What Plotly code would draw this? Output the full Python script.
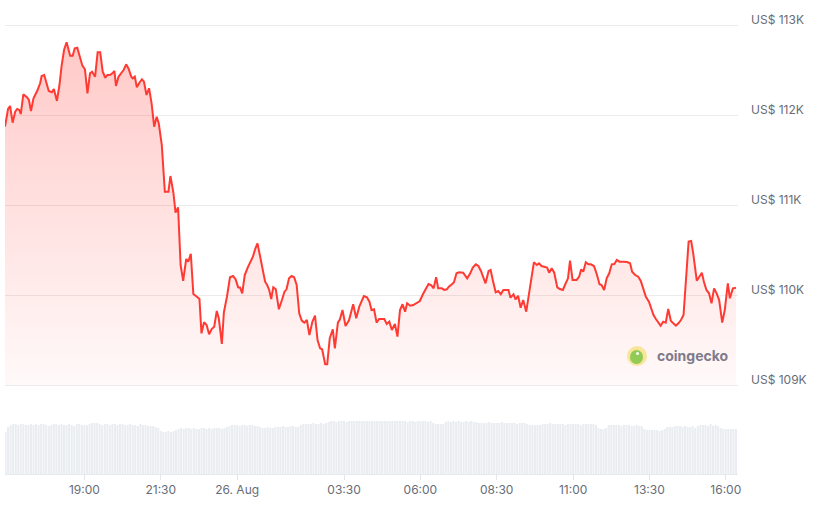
import plotly.graph_objects as go
from datetime import datetime, timedelta

# ---------------- data ----------------
price_times = [
    "16:24", "16:27", "16:30", "16:34", "16:39", "16:44", "16:48", "16:52", "16:55", "17:00",
    "17:07", "17:11", "17:15", "17:20", "17:24", "17:28", "17:33", "17:36", "17:41", "17:46",
    "17:50", "17:56", "18:00", "18:06", "18:11", "18:15", "18:20", "18:25", "18:30", "18:32",
    "18:37", "18:41", "18:46", "18:51", "18:56", "19:01", "19:06", "19:11", "19:15", "19:21",
    "19:26", "19:31", "19:36", "19:41", "19:45", "19:50", "19:55", "19:59", "20:02", "20:07",
    "20:12", "20:17", "20:22", "20:27", "20:32", "20:35", "20:39", "20:43", "20:48", "20:53",
    "20:57", "21:02", "21:07", "21:12", "21:17", "21:22", "21:26", "21:32", "21:38", "21:45",
    "21:49", "21:55", "21:59", "22:04", "22:09", "22:14", "22:20", "22:24", "22:29", "22:34",
    "22:41", "22:46", "22:50", "22:55", "23:00", "23:05", "23:10", "23:15", "23:20", "23:24",
    "23:30", "23:34", "23:40", "23:46", "23:52", "23:57", "00:02", "00:06", "00:10", "00:15",
    "00:21", "00:25", "00:31", "00:36", "00:40", "00:45", "00:50", "00:55", "00:59", "01:03",
    "01:07", "01:11", "01:16", "01:22", "01:28", "01:33", "01:37", "01:42", "01:47", "01:52",
    "01:57", "02:02", "02:07", "02:12", "02:17", "02:22", "02:28", "02:33", "02:38", "02:43",
    "02:47", "02:53", "02:57", "03:02", "03:08", "03:12", "03:18", "03:22", "03:27", "03:33",
    "03:40", "03:48", "03:54", "04:00", "04:09", "04:15", "04:20", "04:24", "04:29", "04:34",
    "04:39", "04:44", "04:49", "04:54", "04:59", "05:04", "05:10", "05:15", "05:20", "05:25",
    "05:30", "05:34", "05:40", "05:46", "05:53", "05:59", "06:05", "06:10", "06:16", "06:21",
    "06:26", "06:31", "06:35", "06:42", "06:47", "06:52", "06:56", "07:02", "07:06", "07:11",
    "07:16", "07:24", "07:32", "07:38", "07:43", "07:49", "07:54", "07:59", "08:04", "08:08",
    "08:14", "08:18", "08:23", "08:28", "08:33", "08:38", "08:43", "08:48", "08:53", "08:57",
    "09:03", "09:07", "09:12", "09:17", "09:22", "09:28", "09:35", "09:43", "09:49", "09:53",
    "09:58", "10:05", "10:09", "10:13", "10:18", "10:23", "10:29", "10:34", "10:40", "10:44",
    "10:50", "10:54", "10:59", "11:07", "11:12", "11:16", "11:20", "11:25", "11:30", "11:35",
    "11:41", "11:46", "11:52", "11:56", "12:01", "12:06", "12:11", "12:16", "12:21", "12:26",
    "12:31", "12:39", "12:46", "12:52", "12:56", "13:02", "13:08", "13:13", "13:18", "13:23",
    "13:29", "13:33", "13:38", "13:43", "13:47", "13:52", "13:57", "14:02", "14:07", "14:12",
    "14:17", "14:22", "14:27", "14:32", "14:37", "14:42", "14:47", "14:52", "14:56", "15:03",
    "15:07", "15:13", "15:17", "15:22", "15:27", "15:32", "15:37", "15:42", "15:47", "15:53",
    "15:58", "16:04", "16:08", "16:14", "16:20",
]
prices = [
    111870, 112000, 112067, 112100, 111915, 112037, 112067, 112056, 112011, 112230,
    112197, 112167, 112044, 112186, 112230, 112278, 112352, 112433, 112444, 112352,
    112267, 112252, 112289, 112156, 112333, 112537, 112722, 112808, 112703, 112659,
    112659, 112741, 112748, 112630, 112548, 112508, 112241, 112463, 112481, 112426,
    112697, 112697, 112481, 112414, 112444, 112444, 112463, 112489, 112322, 112426,
    112463, 112500, 112563, 112511, 112426, 112407, 112426, 112308, 112359, 112397,
    112370, 112222, 112297, 112130, 111870, 111981, 111908, 111667, 111148, 111148,
    111322, 111130, 110915, 110974, 110333, 110156, 110400, 110370, 110459, 110011,
    109981, 109956, 109574, 109697, 109667, 109563, 109622, 109648, 109822, 109741,
    109456, 109808, 109981, 110197, 110211, 110174, 110085, 110081, 110019, 110222,
    110308, 110352, 110426, 110519, 110574, 110433, 110297, 110148, 110111, 110056,
    109956, 110085, 110063, 109841, 109944, 110037, 110063, 110185, 110211, 110197,
    110111, 109797, 109715, 109693, 109722, 109556, 109704, 109770, 109500, 109408,
    109397, 109230, 109230, 109519, 109619, 109408, 109693, 109730, 109833, 109656,
    109722, 109897, 109741, 109870, 109989, 109974, 109926, 109833, 109841, 109693,
    109733, 109730, 109733, 109678, 109704, 109611, 109678, 109537, 109833, 109897,
    109815, 109908, 109881, 109889, 109908, 109933, 110008, 110056, 110122, 110111,
    110074, 110197, 110074, 110074, 110056, 110063, 110093, 110119, 110141, 110241,
    110252, 110248, 110185, 110241, 110304, 110341, 110322, 110267, 110178, 110130,
    110267, 110278, 110148, 110030, 110044, 110008, 110056, 110052, 110056, 109970,
    110008, 109952, 109992, 109859, 109944, 109815, 110056, 110363, 110333, 110352,
    110322, 110315, 110304, 110248, 110297, 110248, 110085, 110067, 110056, 110111,
    110185, 110381, 110167, 110167, 110204, 110285, 110259, 110363, 110341, 110341,
    110322, 110241, 110119, 110111, 110056, 110185, 110241, 110341, 110344, 110389,
    110370, 110370, 110367, 110352, 110259, 110222, 110204, 110156, 110056, 109981,
    109926, 109852, 109778, 109730, 109704, 109659, 109704, 109693, 109844, 109715,
    109685, 109659, 109685, 109722, 109778, 110204, 110593, 110600, 110463, 110159,
    110197, 110248, 110148, 110056, 110019, 109908, 110074, 110019, 109944, 109693,
    109833, 110130, 109963, 110074, 110081,
]

# 5-minute volume bars (US$ bn, rolling), first bar at 16:25
volume_start = "2025-08-25 16:25"
volume_bn = [
    42, 47, 49, 50, 50, 49, 50, 50, 49, 49, 50, 49,
    50, 49, 50, 50, 49, 48, 49, 50, 50, 49, 50, 49,
    49, 50, 49, 48, 50, 50, 49, 49, 49, 50, 51, 51,
    51, 50, 49, 50, 50, 49, 50, 50, 49, 50, 50, 49,
    49, 50, 49, 49, 48, 50, 49, 49, 48, 48, 48, 47,
    46, 43, 42, 42, 43, 42, 43, 44, 45, 46, 45, 46,
    46, 45, 46, 45, 45, 46, 46, 45, 46, 45, 46, 46,
    46, 45, 46, 47, 48, 49, 49, 49, 48, 49, 49, 48,
    49, 49, 48, 48, 47, 46, 46, 47, 46, 46, 47, 47,
    47, 48, 47, 47, 48, 48, 47, 47, 49, 50, 50, 50,
    50, 51, 50, 50, 51, 50, 51, 52, 53, 53, 52, 53,
    53, 53, 52, 53, 53, 53, 53, 53, 53, 53, 53, 53,
    53, 53, 53, 53, 53, 53, 53, 53, 53, 53, 53, 53,
    53, 53, 52, 53, 53, 52, 53, 53, 53, 53, 52, 53,
    51, 50, 50, 50, 50, 52, 53, 52, 53, 52, 53, 52,
    52, 53, 52, 53, 52, 52, 51, 51, 51, 51, 52, 51,
    51, 51, 51, 52, 51, 51, 51, 51, 51, 50, 51, 51,
    51, 50, 49, 49, 49, 49, 49, 50, 50, 50, 51, 50,
    50, 50, 50, 50, 49, 50, 50, 50, 50, 50, 49, 50,
    50, 50, 50, 50, 49, 46, 45, 45, 46, 49, 49, 49,
    49, 49, 48, 49, 49, 49, 48, 48, 49, 48, 48, 45,
    44, 44, 44, 44, 44, 43, 44, 45, 47, 47, 47, 48,
    48, 48, 47, 48, 47, 47, 48, 46, 48, 49, 49, 49,
    48, 50, 48, 49, 48, 46, 45, 45, 45, 45, 45, 45,
]

y_tick_vals = [109000, 110000, 111000, 112000, 113000]
y_tick_text = ["US$ 109K", "US$ 110K", "US$ 111K", "US$ 112K", "US$ 113K"]
x_tick_vals = ["2025-08-25 19:00", "2025-08-25 21:30", "2025-08-26 00:00",
               "2025-08-26 03:30", "2025-08-26 06:00", "2025-08-26 08:30",
               "2025-08-26 11:00", "2025-08-26 13:30", "2025-08-26 16:00"]
x_tick_text = ["19:00", "21:30", "26. Aug", "03:30", "06:00", "08:30",
               "11:00", "13:30", "16:00"]
x_range = ["2025-08-25 16:24", "2025-08-26 16:24"]


def to_datetimes(hhmm, day0="2025-08-25"):
    out, day, prev = [], datetime.fromisoformat(day0), None
    for s in hhmm:
        h, m = map(int, s.split(":"))
        t = day.replace(hour=h, minute=m)
        if prev is not None and t < prev:
            day += timedelta(days=1)
            t = day.replace(hour=h, minute=m)
        out.append(t)
        prev = t
    return out


px_times = to_datetimes(price_times)
v0 = datetime.fromisoformat(volume_start)
vol_times = [v0 + timedelta(minutes=5 * i) for i in range(len(volume_bn))]

# ---------------- layout geometry ----------------
W, H = 821, 514
ML, MR, MT, MB = 5, 83, 20, 40
plot_h = H - MT - MB
PRICE_BOTTOM_PX = 390  # pixel of price domain bottom
price_dom = [(H - MB - PRICE_BOTTOM_PX) / plot_h, 1.0]
vol_dom = [0, 60 / plot_h]
px_per_k = 90
pad = 5 / px_per_k * 1000
y_range = [109000 - pad, 113000 + pad]

LINE = "#ff3a33"
TXT = "#666d78"

fig = go.Figure()

fig.add_trace(go.Bar(
    x=vol_times, y=volume_bn, xaxis="x", yaxis="y2",
    marker=dict(color="#e9ecf1", line=dict(width=0)),
    hoverinfo="skip",
))

fig.add_trace(go.Scatter(
    x=[px_times[0], px_times[-1]], y=[109000, 109000],
    mode="lines", line=dict(width=0, color="rgba(0,0,0,0)"),
    hoverinfo="skip", xaxis="x", yaxis="y",
))

fig.add_trace(go.Scatter(
    x=px_times, y=prices, mode="lines", xaxis="x", yaxis="y",
    line=dict(color=LINE, width=2),
    fill="tonexty",
    fillgradient=dict(
        type="vertical",
        colorscale=[[0, "rgba(255,58,51,0.03)"], [1, "rgba(255,58,51,0.27)"]],
        start=109000, stop=112800,
    ),
))

# coingecko watermark
def pfx(x):
    return (x - ML) / (W - ML - MR)

def pfy(y):
    return (H - MB - y) / plot_h

logo_x, logo_y = 637, 356
fig.add_shape(type="circle", xref="paper", yref="paper",
              xsizemode="pixel", ysizemode="pixel",
              xanchor=pfx(logo_x), yanchor=pfy(logo_y),
              x0=-10, x1=10, y0=-10, y1=10,
              fillcolor="#f8e59a", line=dict(width=0), layer="above")
fig.add_shape(type="circle", xref="paper", yref="paper",
              xsizemode="pixel", ysizemode="pixel",
              xanchor=pfx(logo_x), yanchor=pfy(logo_y),
              x0=-7, x1=6, y0=-8, y1=6,
              fillcolor="#8fcb55", line=dict(width=0), layer="above")
fig.add_shape(type="circle", xref="paper", yref="paper",
              xsizemode="pixel", ysizemode="pixel",
              xanchor=pfx(logo_x), yanchor=pfy(logo_y),
              x0=-1, x1=2, y0=1, y1=4,
              fillcolor="white", line=dict(width=0), layer="above")
fig.add_annotation(text="<b>coingecko</b>", xref="paper", yref="paper",
                   x=pfx(655), y=pfy(355), xanchor="left", yanchor="middle",
                   showarrow=False,
                   font=dict(family="Inter, Roboto, sans-serif", size=14, color="#7e7b8c"))

fig.update_layout(
    width=W, height=H,
    margin=dict(l=ML, r=MR, t=MT, b=MB),
    paper_bgcolor="white", plot_bgcolor="white",
    showlegend=False, bargap=0.2,
    font=dict(family="Inter, Roboto, sans-serif", size=12, color=TXT),
    xaxis=dict(
        type="date", range=x_range, anchor="y2",
        tickvals=x_tick_vals, ticktext=x_tick_text,
        ticks="outside", ticklen=5, tickcolor="#e3e6eb",
        showline=True, linecolor="#e6e9ee", linewidth=1,
        showgrid=False, zeroline=False,
        tickfont=dict(size=12, color=TXT),
    ),
    yaxis=dict(
        domain=price_dom, range=y_range, side="right", anchor="x",
        tickvals=y_tick_vals, ticktext=y_tick_text,
        showgrid=True, gridcolor="#ebebeb", gridwidth=1,
        zeroline=False, showline=False, ticks="",
        ticklabelshift=-5, ticklabelstandoff=12,
        tickfont=dict(size=12, color=TXT),
    ),
    yaxis2=dict(
        domain=vol_dom, range=[0, 60], anchor="x",
        visible=False, showgrid=False, zeroline=False,
    ),
)

fig.write_html("out.html", config={"displayModeBar": False},
               post_script="document.body.style.margin='0';")
